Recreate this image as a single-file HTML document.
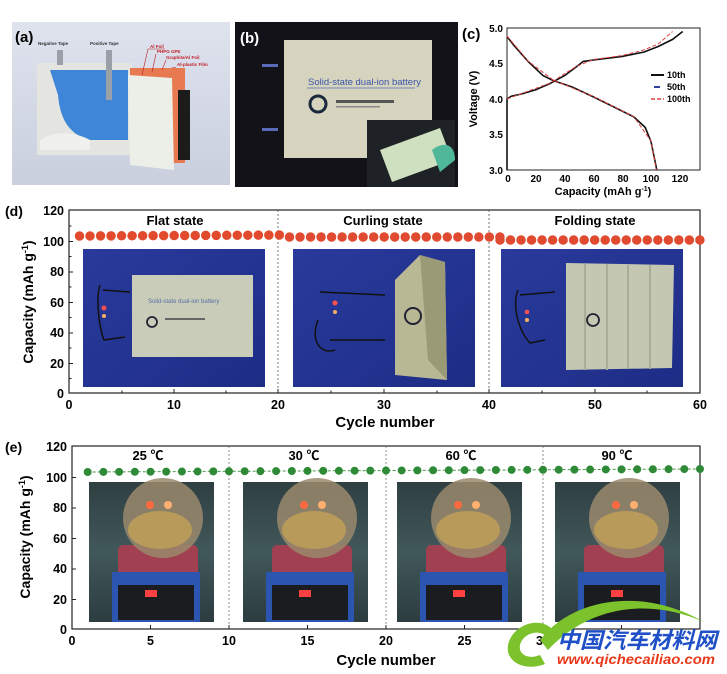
<!DOCTYPE html>
<html><head><meta charset="utf-8"><style>
html,body{margin:0;padding:0;background:#fff}
svg{display:block}
text{font-family:"Liberation Sans","Noto Sans CJK SC",sans-serif}
</style></head><body>
<svg width="727" height="674" viewBox="0 0 727 674" xmlns="http://www.w3.org/2000/svg">
<defs>
<linearGradient id="ga" x1="0" y1="0" x2="0" y2="1"><stop offset="0" stop-color="#dfe3ee"/><stop offset="1" stop-color="#c9cfdd"/></linearGradient>
<linearGradient id="gblue" x1="0" y1="0" x2="1" y2="1"><stop offset="0" stop-color="#2a3a9c"/><stop offset="1" stop-color="#1d2d86"/></linearGradient>
<linearGradient id="gph" x1="0" y1="0" x2="0" y2="1"><stop offset="0" stop-color="#2f3f42"/><stop offset="0.5" stop-color="#41585a"/><stop offset="1" stop-color="#2c3c40"/></linearGradient>
<radialGradient id="gball" cx="0.35" cy="0.35" r="0.7"><stop offset="0" stop-color="#ff9a7a"/><stop offset="1" stop-color="#d8301a"/></radialGradient>
</defs>

<!-- (a) -->
<rect x="12" y="22" width="218" height="163" fill="url(#ga)"/>
<rect x="37" y="63" width="95" height="92" fill="#e4e4e0"/>
<path d="M50,70 L128,70 L128,140 L90,140 C70,135 60,120 58,95 Z" fill="#3f86d8"/>
<path d="M40,140 C55,130 75,132 90,140 L90,150 L40,150 Z" fill="#f0f0ee"/>
<rect x="130" y="68" width="55" height="95" fill="#e87a52"/>
<rect x="178" y="90" width="12" height="70" fill="#1c1c1c"/>
<path d="M128,75 L172,78 L174,170 L130,165 Z" fill="#eceee8"/>
<rect x="57" y="50" width="6" height="15" fill="#9aa0a8"/>
<rect x="106" y="50" width="6" height="50" fill="#9aa0a8"/>
<text x="15" y="42" font-size="15" font-weight="bold">(a)</text>
<text x="38" y="45" font-size="4.5" font-weight="bold" fill="#333">Negative Tape</text>
<text x="90" y="45" font-size="4.5" font-weight="bold" fill="#333">Positive Tape</text>
<text x="150" y="48" font-size="4.5" font-weight="bold" fill="#c0202a">Al Foil</text>
<text x="157" y="53" font-size="4.5" font-weight="bold" fill="#c0202a">PHPG GPE</text>
<text x="166" y="59" font-size="4.5" font-weight="bold" fill="#c0202a">Graphite/Al Foil</text>
<text x="177" y="66" font-size="4.5" font-weight="bold" fill="#c0202a">Al-plastic Film</text>
<path d="M142,75 L148,49 L165,49 M152,72 L156,54 M162,70 L166,60 M172,68 L176,67" stroke="#c0202a" stroke-width="0.6" fill="none"/>

<!-- (b) -->
<rect x="235" y="22" width="223" height="165" fill="#121218"/>
<rect x="284" y="40" width="148" height="118" fill="#d6d3bf"/>
<rect x="367" y="120" width="88" height="67" fill="#1e2226"/>
<path d="M380,150 L440,128 L452,160 L392,182 Z" fill="#cfe0c0"/>
<path d="M432,150 C445,140 455,145 455,160 L440,172 Z" fill="#4fb89a"/>
<text x="308" y="85" font-size="9.5" fill="#3a56a8">Solid-state dual-ion battery</text>
<line x1="307" y1="88" x2="415" y2="88" stroke="#5570b8" stroke-width="0.8"/>
<circle cx="318" cy="104" r="8" fill="none" stroke="#1b2a3a" stroke-width="3"/>
<rect x="336" y="100" width="58" height="3" fill="#555"/>
<rect x="336" y="106" width="44" height="1.5" fill="#888"/>
<rect x="262" y="64" width="16" height="3" fill="#5a6ab8"/>
<rect x="262" y="128" width="16" height="3" fill="#5a6ab8"/>
<text x="240" y="43" font-size="15" font-weight="bold" fill="#fff">(b)</text>

<!-- (c) -->
<text x="462" y="39" font-size="15" font-weight="bold">(c)</text>
<rect x="507" y="28" width="193" height="142" fill="none" stroke="#222" stroke-width="1"/>
<g font-size="10" font-weight="bold" text-anchor="end">
<text x="503" y="32">5.0</text><text x="503" y="67">4.5</text><text x="503" y="103">4.0</text><text x="503" y="138">3.5</text><text x="503" y="174">3.0</text>
</g>
<g font-size="10" font-weight="bold" text-anchor="middle">
<text x="508" y="182">0</text><text x="536" y="182">20</text><text x="565" y="182">40</text><text x="594" y="182">60</text><text x="623" y="182">80</text><text x="651" y="182">100</text><text x="680" y="182">120</text>
</g>
<text x="603" y="195" font-size="11" font-weight="bold" text-anchor="middle">Capacity (mAh g<tspan font-size="7" dy="-4">-1</tspan><tspan dy="4">)</tspan></text>
<text transform="translate(477,99) rotate(-90)" font-size="11" font-weight="bold" text-anchor="middle">Voltage (V)</text>
<path d="M507,170 L507,99 L511.3,96.2 L521.4,94 L535.8,89.8 L550.2,83.4 L564.6,75.6 L576.1,67 L583.3,61.4 L593.4,60 L622.2,56.4 L643.8,52.1 L658.2,46.5 L672.6,39.4 L682.7,31.5" fill="none" stroke="#111" stroke-width="1.6"/>
<path d="M507,36.5 L514.2,45.8 L528.6,62 L543,75.6 L553.1,80.5 L571.8,86.9 L593.4,96.9 L615,107.5 L633.7,116.8 L645.2,127.4 L651,141.6 L656.8,170" fill="none" stroke="#111" stroke-width="1.6"/>
<path d="M507,99 L521.4,93.6 L550.2,83 L576.1,66.5 L593.4,59.5 L622.2,55.5 L643.8,50 L658.2,44 L672.6,31.5 M507,36 L528.6,61.5 L553.1,80 L593.4,96.5 L633.7,116.5 L651,141 L656.3,170" fill="none" stroke="#e04040" stroke-width="1" stroke-dasharray="4 2"/>
<line x1="651" y1="75" x2="664" y2="75" stroke="#111" stroke-width="2"/>
<line x1="654" y1="87" x2="660" y2="87" stroke="#3040a0" stroke-width="2"/>
<line x1="651" y1="99" x2="664" y2="99" stroke="#e04040" stroke-width="1.5" stroke-dasharray="4 2"/>
<g font-size="9" font-weight="bold"><text x="667" y="78">10th</text><text x="667" y="90">50th</text><text x="667" y="102">100th</text></g>

<!-- (d) -->
<text x="5" y="216" font-size="14" font-weight="bold">(d)</text>
<rect x="69" y="210" width="631" height="183" fill="none" stroke="#222" stroke-width="1.2"/>
<line x1="278" y1="210" x2="278" y2="393" stroke="#555" stroke-width="0.8" stroke-dasharray="2 2"/>
<line x1="489" y1="210" x2="489" y2="393" stroke="#555" stroke-width="0.8" stroke-dasharray="2 2"/>
<g font-size="12.5" font-weight="bold" text-anchor="end">
<text x="64" y="215">120</text><text x="64" y="246">100</text><text x="64" y="276">80</text><text x="64" y="307">60</text><text x="64" y="337">40</text><text x="64" y="368">20</text><text x="64" y="398">0</text>
</g>
<g stroke="#222" stroke-width="1">
<path d="M69,241.5h4M69,272h4M69,302.5h4M69,333h4M69,363.5h4M69,226h2.5M69,256.5h2.5M69,287h2.5M69,317.5h2.5M69,348h2.5M69,378.5h2.5"/>
<path d="M174,393v-4M278,393v-4M384,393v-4M489,393v-4M595,393v-4M122,393v-2.5M226,393v-2.5M331,393v-2.5M437,393v-2.5M542,393v-2.5M647,393v-2.5"/>
</g>
<g font-size="12.5" font-weight="bold" text-anchor="middle">
<text x="69" y="409">0</text><text x="174" y="409">10</text><text x="278" y="409">20</text><text x="384" y="409">30</text><text x="489" y="409">40</text><text x="595" y="409">50</text><text x="700" y="409">60</text>
</g>
<text x="385" y="427" font-size="15" font-weight="bold" text-anchor="middle">Cycle number</text>
<text transform="translate(33,302) rotate(-90)" font-size="14" font-weight="bold" text-anchor="middle">Capacity (mAh g<tspan font-size="9" dy="-5">-1</tspan><tspan dy="5">)</tspan></text>
<g font-size="13" font-weight="bold" text-anchor="middle">
<text x="175" y="225">Flat state</text><text x="383" y="225">Curling state</text><text x="595" y="225">Folding state</text>
</g>
<!-- photos d -->
<rect x="83" y="249" width="182" height="138" fill="url(#gblue)"/>
<rect x="132" y="275" width="121" height="82" fill="#c8ccb8"/>
<text x="148" y="303" font-size="6" fill="#5a70a8">Solid-state dual-ion battery</text>
<circle cx="152" cy="322" r="5" fill="none" stroke="#223" stroke-width="1.8"/>
<rect x="165" y="318" width="40" height="2" fill="#666"/>
<path d="M100,285 C95,300 100,330 104,340 L125,337 M103,290 L130,292" stroke="#111" stroke-width="1.5" fill="none"/>
<circle cx="104" cy="308" r="2.5" fill="#ff5050"/><circle cx="104" cy="316" r="2" fill="#ffb060"/>
<rect x="293" y="249" width="182" height="138" fill="url(#gblue)"/>
<path d="M395,280 L420,255 L445,262 L447,380 L395,375 Z" fill="#b8b894"/>
<path d="M420,255 L445,262 L447,380 L428,360 Z" fill="#9a9a76"/>
<circle cx="413" cy="316" r="8" fill="none" stroke="#223" stroke-width="2"/>
<path d="M320,292 L385,295 M330,340 L385,340 M318,320 C310,340 320,355 335,350" stroke="#111" stroke-width="1.5" fill="none"/>
<circle cx="335" cy="303" r="2.5" fill="#ff5050"/><circle cx="335" cy="312" r="2" fill="#ffb060"/>
<rect x="501" y="249" width="182" height="138" fill="url(#gblue)"/>
<path d="M566,263 L674,265 L672,368 L566,370 Z" fill="#c4c8b2"/>
<path d="M585,264v106M607,264v106M628,265v104M650,265v104" stroke="#a8ac98" stroke-width="2"/>
<circle cx="593" cy="320" r="6" fill="none" stroke="#223" stroke-width="1.8"/>
<path d="M518,290 C512,305 518,330 530,343 L545,340 M520,295 L555,292" stroke="#111" stroke-width="1.5" fill="none"/>
<circle cx="527" cy="312" r="2.3" fill="#ff5050"/><circle cx="527" cy="320" r="2" fill="#ffb060"/>
<!-- dots d -->
<line x1="79.5" y1="236" x2="289" y2="235" stroke="#e24a2e" stroke-width="9.5" stroke-linecap="round" stroke-dasharray="0 10.52"/>
<line x1="289.5" y1="237" x2="500" y2="237" stroke="#e04a30" stroke-width="9.5" stroke-linecap="round" stroke-dasharray="0 10.52"/>
<line x1="500" y1="240" x2="700" y2="240" stroke="#e04a30" stroke-width="9.5" stroke-linecap="round" stroke-dasharray="0 10.52"/>

<!-- (e) -->
<text x="5" y="452" font-size="14" font-weight="bold">(e)</text>
<rect x="72" y="446" width="628" height="183" fill="none" stroke="#222" stroke-width="1.2"/>
<g stroke="#777" stroke-width="0.8" stroke-dasharray="2 2">
<line x1="229" y1="446" x2="229" y2="629"/><line x1="386" y1="446" x2="386" y2="629"/><line x1="543" y1="446" x2="543" y2="629"/>
</g>
<g font-size="12.5" font-weight="bold" text-anchor="end">
<text x="67" y="451">120</text><text x="67" y="482">100</text><text x="67" y="512">80</text><text x="67" y="543">60</text><text x="67" y="573">40</text><text x="67" y="604">20</text><text x="67" y="634">0</text>
</g>
<g stroke="#222" stroke-width="1">
<path d="M72,477.5h4M72,508h4M72,538.5h4M72,569h4M72,599.5h4"/>
<path d="M150.5,629v-4M229,629v-4M307.5,629v-4M386,629v-4M464.5,629v-4M543,629v-4M621.5,629v-4"/>
</g>
<g font-size="12.5" font-weight="bold" text-anchor="middle">
<text x="72" y="645">0</text><text x="150.5" y="645">5</text><text x="229" y="645">10</text><text x="307.5" y="645">15</text><text x="386" y="645">20</text><text x="464.5" y="645">25</text><text x="543" y="645">30</text>
</g>
<text x="386" y="665" font-size="15" font-weight="bold" text-anchor="middle">Cycle number</text>
<text transform="translate(30,537) rotate(-90)" font-size="14" font-weight="bold" text-anchor="middle">Capacity (mAh g<tspan font-size="9" dy="-5">-1</tspan><tspan dy="5">)</tspan></text>
<g font-size="13" font-weight="bold" text-anchor="middle">
<text x="148" y="460">25 ℃</text><text x="304" y="460">30 ℃</text><text x="461" y="460">60 ℃</text><text x="617" y="460">90 ℃</text>
</g>
<!-- photos e -->
<g id="ph">
<rect x="89" y="482" width="125" height="140" fill="url(#gph)"/>
<rect x="118" y="545" width="80" height="35" rx="5" fill="#a04050"/>
<rect x="112" y="572" width="88" height="50" fill="#2b55b0"/>
<rect x="118" y="585" width="76" height="35" fill="#1a1c20"/>
<rect x="145" y="590" width="12" height="7" fill="#ff4040"/>
<circle cx="163" cy="518" r="40" fill="#9a8a6c" opacity="0.85"/>
<ellipse cx="160" cy="530" rx="32" ry="19" fill="#b89a5a"/>
<circle cx="150" cy="505" r="4" fill="#ff6a40"/><circle cx="168" cy="505" r="4" fill="#ffb070"/>
</g>
<use href="#ph" x="154"/>
<use href="#ph" x="308"/>
<use href="#ph" x="466"/>
<!-- dots e -->
<line x1="87.7" y1="472" x2="700" y2="469" stroke="#4a9a4a" stroke-width="1" stroke-dasharray="3 2"/>
<line x1="87.7" y1="472" x2="701" y2="469" stroke="#2f8a38" stroke-width="8" stroke-linecap="round" stroke-dasharray="0 15.7"/>

<!-- watermark -->
<path d="M553,630 C540,615 512,625 508,645 C505,662 525,672 545,664 L540,655 C528,660 518,654 520,645 C523,633 540,628 548,638 Z" fill="#7cc22c"/>
<path d="M540,640 C570,600 640,585 704,622 C650,598 590,605 548,650 Z" fill="#7cc22c"/>
<text x="557" y="648" font-size="22" font-weight="bold" font-style="italic" fill="#1f50c8" textLength="160" lengthAdjust="spacingAndGlyphs">中国汽车材料网</text>
<text x="557" y="664" font-size="13.5" font-weight="bold" font-style="italic" fill="#e8381a" textLength="158" lengthAdjust="spacingAndGlyphs">www.qichecailiao.com</text>
</svg>
</body></html>
